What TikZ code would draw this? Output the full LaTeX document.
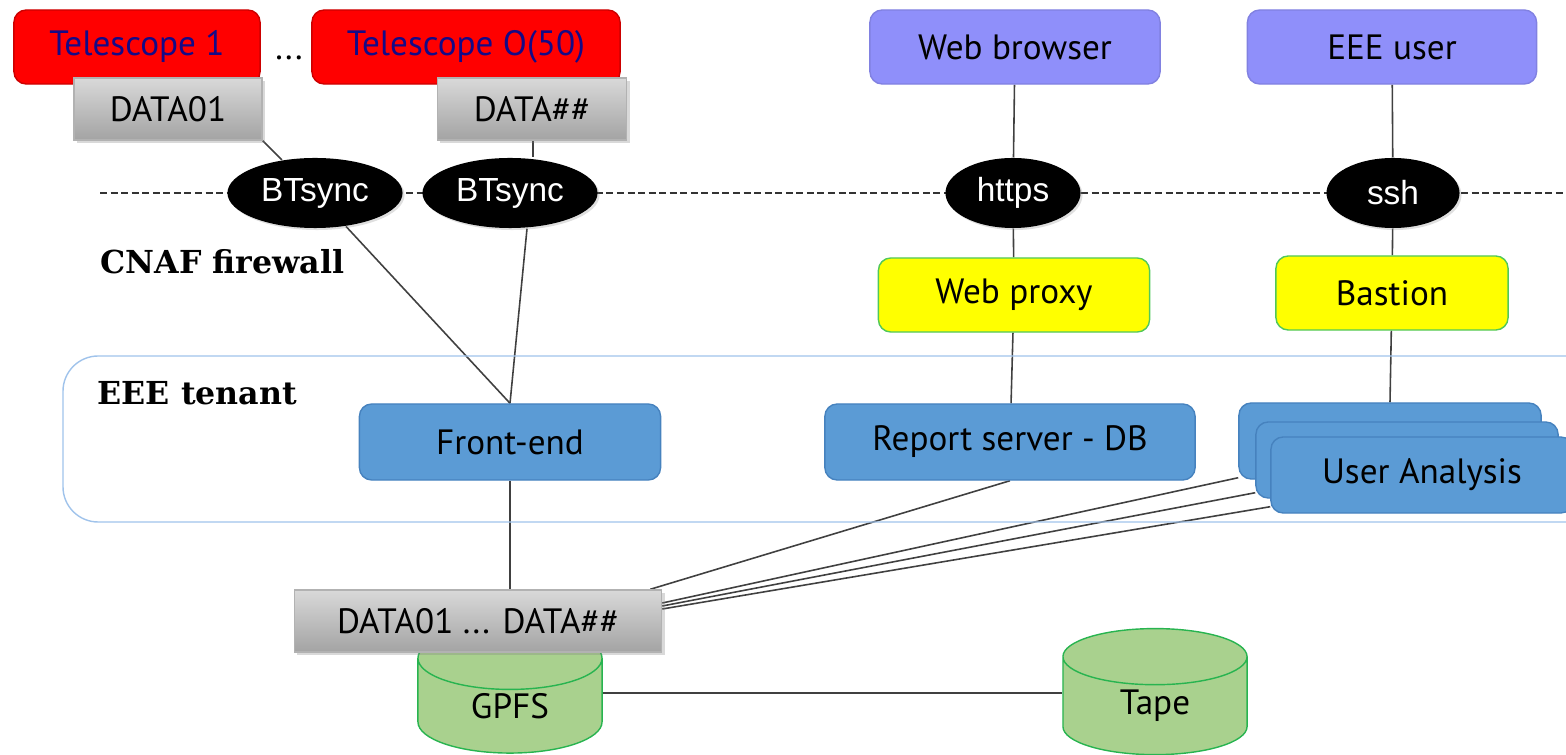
\documentclass[tikz,border=0pt]{standalone}
\usepackage{fontspec}
\setsansfont{PT Sans}
\newfontfamily\protofont{Liberation Sans}
\newfontfamily\slabfont{DejaVu Serif}
\usetikzlibrary{shapes.geometric, shadows, backgrounds}

\definecolor{telred}{RGB}{255,0,0}
\definecolor{telblue}{RGB}{20,10,135}
\definecolor{lilac}{RGB}{143,143,250}
\definecolor{vmblue}{RGB}{91,155,213}
\definecolor{vmline}{RGB}{70,130,190}
\definecolor{gateyellow}{RGB}{255,255,0}
\definecolor{gateline}{RGB}{80,200,90}
\definecolor{storegreen}{RGB}{169,209,142}
\definecolor{storeline}{RGB}{40,180,80}
\definecolor{tenantline}{RGB}{160,195,235}

\tikzset{
  box/.style={rounded corners=3.5pt, inner sep=0pt, minimum height=0.74cm,
    font=\sffamily\fontsize{10}{12}\selectfont},
  telbox/.style={box, fill=telred, draw=telred!80!black, text=telblue},
  userbox/.style={box, fill=lilac, draw=lilac!90!black},
  gatebox/.style={box, fill=gateyellow, draw=gateline},
  vmbox/.style={box, fill=vmblue, draw=vmline, minimum height=0.76cm},
  databox/.style={inner sep=0pt, minimum height=0.62cm,
    font=\sffamily\fontsize{10}{12}\selectfont,
    top color=gray!30, bottom color=gray!72, draw=gray!60,
    drop shadow={opacity=0.3, shadow xshift=0.03cm, shadow yshift=-0.03cm}},
  protonode/.style={ellipse, fill=black, text=white, inner sep=0pt,
    minimum height=0.70cm, font=\protofont\fontsize{9.5}{11}\selectfont,
    drop shadow={opacity=0.25, shadow xshift=0.02cm, shadow yshift=-0.02cm}},
  storenode/.style={cylinder, shape border rotate=90, aspect=0.8,
    fill=storegreen, draw=storeline, inner sep=0pt,
    minimum width=1.84cm, minimum height=1.26cm,
    font=\sffamily\fontsize{10}{12}\selectfont},
  zonelabel/.style={font=\slabfont\bfseries\fontsize{9}{11}\selectfont, inner sep=0pt},
  link/.style={draw=black!75, line width=0.45pt}
}

\begin{document}
\begin{tikzpicture}[x=0.01cm, y=-0.01cm]
    \useasboundingbox (0,0) rectangle (1566,755);

    % tenant area and firewall line
    \draw[tenantline, rounded corners=10pt] (63,356) rectangle (1620,522);
    \node[zonelabel, anchor=west] (tenant) at (97,393) {EEE tenant};
    \node[zonelabel, anchor=west] (cnaf) at (100,262) {CNAF firewall};
    \coordinate (fwL) at (100,193);
    \coordinate (fwR) at (1566,193);

    % sources
    \node[telbox, minimum width=2.46cm] (tel1) at (137,47) {Telescope 1};
    \node[telbox, minimum width=3.08cm] (telN) at (466,47) {Telescope O(50)};
    \node[font=\sffamily\fontsize{10}{12}\selectfont] (dots) at (289,58) {...};
    \node[databox, minimum width=1.88cm] (d1) at (168,109) {DATA01};
    \node[databox, minimum width=1.89cm] (dN) at (532,109) {DATA\#\#};
    \node[userbox, minimum width=2.90cm] (wb) at (1015,47) {Web browser};
    \node[userbox, minimum width=2.89cm] (eu) at (1392,47) {EEE user};

    % firewall openings
    \node[protonode, minimum width=1.75cm] (bt1) at (315,193) {BTsync};
    \node[protonode, minimum width=1.75cm] (bt2) at (510,193) {BTsync};
    \node[protonode, minimum width=1.35cm] (https) at (1013,193) {https};
    \node[protonode, minimum width=1.33cm] (ssh) at (1393,193) {ssh};

    \node[gatebox, minimum width=2.71cm] (wp) at (1014,295) {Web proxy};
    \node[gatebox, minimum width=2.32cm] (bas) at (1392,293) {Bastion};

    % tenant machines
    \node[vmbox, minimum width=3.01cm] (fe) at (510,442) {Front-end};
    \node[vmbox, minimum width=3.70cm] (rs) at (1010,442) {Report server - DB};
    \node[vmbox, minimum width=3.02cm] (ua1) at (1390,441) {};
    \node[vmbox, minimum width=3.02cm] (ua2) at (1407,460) {};
    \node[vmbox, minimum width=3.02cm] (ua3) at (1422,475) {User Analysis};

    % storage
    \node[storenode] (gpfs) at (510,706) {GPFS};
    \node[storenode] (tape) at (1155,706) {Tape};
    \node[databox, minimum width=3.67cm] (dall) at (478,621) {DATA01 ... DATA\#\#};

    \begin{scope}[on background layer]
        \draw[black!80, dash pattern=on 2pt off 1pt] (fwL) -- (fwR);
        \draw[link] (d1.south east) -- (bt1) -- (fe.north);
        \draw[link] ([xshift=0.01cm]dN.south) -- ([xshift=0.01cm]dN.south |- bt2.north);
        \draw[link] ([xshift=0.17cm]bt2.south) -- (fe.north);
        \draw[link] (wb) -- (https) -- (wp) -- (rs);
        \draw[link] (eu) -- (ssh) -- (bas) -- (ua1.north);
        \draw[link] (fe.south) -- (fe.south |- dall.north);
        \draw[link] (rs.south) -- ([xshift=-0.12cm]dall.north east);
        \draw[link] ([yshift=0.02cm]ua1.south west) -- ([yshift=0.18cm]dall.east);
        \draw[link] ([yshift=0.06cm]ua2.south west) -- ([yshift=0.15cm]dall.east);
        \draw[link] ([yshift=0.07cm]ua3.south west) -- ([yshift=0.12cm]dall.east);
        \draw[link] ([yshift=0.13cm]gpfs.east) -- ([yshift=0.13cm]gpfs.east -| tape.west);
    \end{scope}
\end{tikzpicture}
\end{document}
